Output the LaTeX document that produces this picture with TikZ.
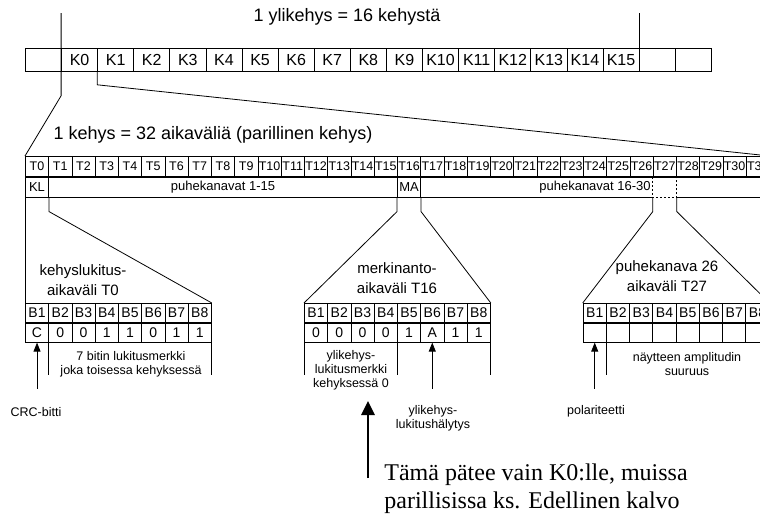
\documentclass[tikz,border=0pt]{standalone}
\usepackage{fontspec}
\setmainfont{Liberation Sans}
\newfontfamily\timesfont{Liberation Serif}
\usetikzlibrary{arrows.meta}

\begin{document}
\begin{tikzpicture}[x=1pt,y=-1pt,line width=0.8pt,
	kcell/.style={draw,anchor=north west,inner sep=0pt,minimum width=36.1pt,minimum height=23.3pt,font=\fontsize{16}{16}\selectfont},
	tcell/.style={draw,anchor=north west,inner sep=0pt,minimum width=23.25pt,minimum height=20pt,font=\fontsize{12.5}{13}\selectfont},
	bcell/.style={draw,anchor=north west,inner sep=0pt,minimum width=23.25pt,minimum height=19pt,font=\fontsize{14}{14}\selectfont},
	ttlfont/.style={font=\fontsize{18}{20}\selectfont},
	lbl/.style={align=center,inner sep=0pt,font=\fontsize{15}{20}\selectfont},
	note/.style={align=center,inner sep=0pt,font=\fontsize{12.5}{14}\selectfont},
	uparrow/.style={-{Triangle[width=7pt,length=9pt]}}]
	\clip (0,0) rectangle (760,514);
	% ylikehys
	\node[ttlfont] (ttl1) at (347,17) {1 ylikehys = 16 kehystä};
	\node[kcell] (kx) at (25,47.7) {};
	\foreach \i in {0,...,15}
		\node[kcell] (K\i) at ({61.1+36.1*\i},47.7) {K\i};
	\node[kcell] (ky) at (639.1,47.7) {};
	\node[kcell] (kz) at (675.2,47.7) {};
	% kehys
	\node[ttlfont] (ttl2) at (213,135) {1 kehys = 32 aikaväliä (parillinen kehys)};
	\foreach \i in {0,...,31}
		\node[tcell] (T\i) at ({25+23.25*\i},156) {T\i};
	\node[tcell,font=\fontsize{13}{13}\selectfont] (KL) at (T0.south west) {KL};
	\node[tcell,minimum width=348.75pt,font=\fontsize{13}{13}\selectfont] (pk1) at (T1.south west) {puhekanavat 1-15};
	\node[tcell,font=\fontsize{13}{13}\selectfont] (MA) at (T16.south west) {MA};
	\node[tcell,minimum width=348.75pt,font=\fontsize{13}{13}\selectfont] (pk2) at (T17.south west) {puhekanavat 16-30};
	\draw[white,line width=1.6pt] (T27.south west |- pk2.south) -- (T27.south east |- pk2.south);
	\draw[dash pattern=on 2pt off 2pt] (T27.south west) -- (T27.south west |- pk2.south) -- (T27.south east |- pk2.south) -- (T27.south east);
	% K0 -> kehys
	\coordinate (k0top) at ([yshift=34.7pt]K0.north west);
	\coordinate (k15top) at ([yshift=34.7pt]K15.north east);
	\draw (k0top) -- (K0.south west) -- ++(0,24) -- (T0.north west);
	\draw (k15top) -- (K15.north east);
	\draw (K1.south west) -- ++(0,13) -- (T31.north east);
	% aikavälit
	\foreach \v [count=\i] in {C,0,0,1,1,0,1,1} {
		\node[bcell] (A\i) at ({1.75+23.25*\i},303) {B\i};
		\node[bcell] (Av\i) at (A\i.south west) {\v};
	}
	\foreach \v [count=\i] in {0,0,0,0,1,A,1,1} {
		\node[bcell] (M\i) at ({280.75+23.25*\i},303) {B\i};
		\node[bcell] (Mv\i) at (M\i.south west) {\v};
	}
	\foreach \i in {1,...,8} {
		\node[bcell] (P\i) at ({559.45+23.25*\i},303) {B\i};
		\node[bcell] (Pv\i) at (P\i.south west) {};
	}
	\draw (KL.south west) -- (A1.north west);
	\draw (KL.south east) -- ++(0,14) -- (A8.north east);
	\draw (MA.south west) -- ++(0,14) -- (M1.north west);
	\draw (MA.south east) -- ++(0,14) -- (M8.north east);
	\draw (T27.south west |- pk2.south) -- ++(0,14) -- (P1.north west);
	\draw (T27.south east |- pk2.south) -- ++(0,14) -- (P8.north east);
	\node[lbl] (lA) at (83,280) {kehyslukitus-\\aikaväli T0};
	\node[lbl] (lM) at (397,278) {merkinanto-\\aikaväli T16};
	\node[lbl] (lP) at (667,276) {puhekanava 26\\aikaväli T27};
	% selitykset
	\draw (Av2.south west) -- ++(0,32);
	\draw (Av8.south east) -- ++(0,32);
	\node[note] (nA) at (131,364) {7 bitin lukitusmerkki\\joka toisessa kehyksessä};
	\coordinate (crcfoot) at ([yshift=-46pt]Av1.south);
	\draw[uparrow] (crcfoot) -- (Av1.south);
	\node[note] (crc) at (36,411.7) {CRC-bitti};
	\draw (Mv1.south west) -- ++(0,32);
	\draw (Mv5.south west) -- ++(0,32);
	\draw (Mv8.south east) -- ++(0,32);
	\node[note] (nM) at (351,370) {ylikehys-\\lukitusmerkki\\kehyksessä 0};
	\coordinate (alfoot) at ([yshift=-46pt]Mv6.south);
	\draw[uparrow] (alfoot) -- (Mv6.south);
	\node[note] (hal) at (433,418) {ylikehys-\\lukitushälytys};
	\draw (Pv2.south west) -- ++(0,32);
	\draw (Pv8.south east) -- ++(0,32);
	\node[note] (nP) at (687,364) {näytteen amplitudin\\suuruus};
	\coordinate (polfoot) at ([yshift=-46pt]Pv1.south);
	\draw[uparrow] (polfoot) -- (Pv1.south);
	\node[note] (pol) at (596,411.7) {polariteetti};
	% huomautus
	\coordinate (bigfoot) at (368,478);
	\coordinate (bigtip) at (368,401);
	\draw[line width=2.8pt,-{Triangle[width=13pt,length=14pt]}] (bigfoot) -- (bigtip);
	\node[anchor=north west,align=left,inner sep=0pt,font=\timesfont\fontsize{24}{28}\selectfont] (huom) at (384,463.5) {Tämä pätee vain K0:lle, muissa\\parillisissa ks. Edellinen kalvo};
\end{tikzpicture}
\end{document}
